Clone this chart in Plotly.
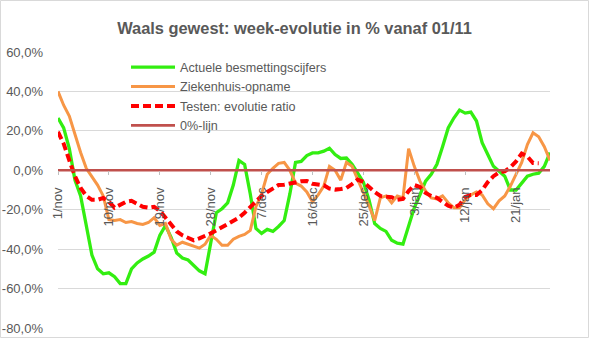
import pandas as pd
import plotly.graph_objects as go

# Daily categories 1/nov .. 27/jan (Dutch month abbreviations)
MONTHS = {11: "nov", 12: "dec", 1: "jan"}
dates = [f"{d.day}/{MONTHS[d.month]}" for d in pd.date_range("2020-11-01", "2021-01-27")]
tick_labels = ["1/nov", "10/nov", "19/nov", "28/nov", "7/dec",
               "16/dec", "25/dec", "3/jan", "12/jan", "21/jan"]
y_ticks = [-80, -60, -40, -20, 0, 20, 40, 60]
y_tick_text = ["-80,0%", "-60,0%", "-40,0%", "-20,0%", "0,0%", "20,0%", "40,0%", "60,0%"]

# Week-on-week evolution (%)
besmettingen = [
    26.5, 21.5, 11, -5, -13, -28, -43, -50, -52.5, -52,
    -54, -57.5, -57.5, -50, -47, -45, -43.5, -41.5, -33, -28,
    -34, -42, -44.5, -45.5, -48, -51, -52.5, -36, -21.5, -19.5,
    -16.5, -7.5, 5, 3, -12, -29.5, -32, -30, -31, -28.5,
    -25.5, -12, 4, 4.5, 7.5, 8.8, 8.8, 9.7, 11.2, 8,
    6, 6.2, 3, -1.5, -6, -15, -27, -29.5, -31, -35.5,
    -37, -37.5, -27.5, -19, -12.5, -5.5, -2, 3, 12, 21.5,
    26.5, 30.5, 29, 29.5, 25, 14, 8, 2, -0.5, -3,
    -10, -10, -6.5, -3, -2, -1.5, 2, 9,
]
ziekenhuis = [
    40, 33, 27.5, 18, 9, 1, -3.5, -7.5, -13, -25,
    -25.5, -25, -26.5, -26, -27, -27.5, -26.5, -24, -28, -27,
    -35, -38, -36.5, -37.5, -38.5, -39.5, -37.5, -33, -35, -38,
    -38, -35, -33.5, -32.5, -30.5, -18.5, -12, -2, 1, 3.5,
    4, 0, -6.5, -8, -11, -16, -12.5, -8, 2, 0,
    -5, 4, 2, -4.5, -11.5, -18, -25.5, -14, -13, -16.5,
    -13, -14, 11, 2, -5.5, -10.5, -14, -14.5, -13, -16.5,
    -19, -19, -15, -12.5, -11, -12.5, -17, -19.5, -15.5, -13,
    -8, -2, 4, 13, 19, 17, 12, 5,
]
testen_ratio = [
    19.5, 13.5, 5, -3, -9, -13, -15, -15, -14, -16,
    -19, -17.5, -16, -15.5, -17, -18.5, -19, -18.5, -20.5, -24,
    -28, -31, -33, -34.5, -35.5, -34.5, -33.5, -32, -30.5, -29,
    -27.5, -25.5, -24, -21.5, -18.5, -15.5, -13, -11, -9, -7.5,
    -7.3, -7, -6.2, -5.6, -5.4, -6.8, -7, -7.6, -9.3, -9.8,
    -9.5, -9, -7, -4.7, -5.9, -8.5, -11, -13, -13.2, -13.7,
    -15, -14.5, -10.5, -7.5, -8.5, -11.5, -13, -14, -16, -18,
    -19, -17.5, -13.5, -12.5, -12.5, -10, -6, -3, -1, -0.5,
    1.5, 4.5, 8.5, 7, 3.7, 3.6, None, None,
]
nul_lijn = [0] * len(dates)

GREY = "#595959"
FONT = "Liberation Sans, Arial, sans-serif"

fig = go.Figure()
fig.add_trace(go.Scatter(x=dates, y=besmettingen, name="Actuele besmettingscijfers",
                         mode="lines", line=dict(color="#33ee11", width=3.3)))
fig.add_trace(go.Scatter(x=dates, y=ziekenhuis, name="Ziekenhuis-opname",
                         mode="lines", line=dict(color="#f79646", width=3)))
fig.add_trace(go.Scatter(x=dates, y=testen_ratio, name="Testen: evolutie ratio",
                         mode="lines", line=dict(color="#ff0000", width=4, dash="8px,4px")))
fig.add_trace(go.Scatter(x=dates, y=nul_lijn, name="0%-lijn",
                         mode="lines", line=dict(color="#c0504d", width=2.6)))

L, R, T, B = 58, 39, 52, 10
W, H = 589, 338
pw, ph = W - L - R, H - T - B

def px_x(p):
    return (p - L) / pw

def px_y(p):
    return 1 - (p - T) / ph

fig.update_layout(
    width=W, height=H,
    margin=dict(l=L, r=R, t=T, b=B, autoexpand=False),
    paper_bgcolor="white", plot_bgcolor="white",
    font=dict(family=FONT, color=GREY, size=13),
    title=dict(text="<b>Waals gewest: week-evolutie in % vanaf 01/11</b>",
               x=0.5, xref="container", xanchor="center",
               y=1 - 28.5 / H, yref="container", yanchor="middle",
               font=dict(family=FONT, size=16.4, color=GREY)),
    legend=dict(x=px_x(126), y=px_y(52.5), xanchor="left", yanchor="top",
                bgcolor="rgba(0,0,0,0)", font=dict(family=FONT, size=12.6, color=GREY),
                itemwidth=44, tracegroupgap=0),
    showlegend=True,
    xaxis=dict(type="category", range=[0, len(dates) - 1], automargin=False,
               anchor="free", position=80 / 140,
               tickmode="array", tickvals=tick_labels, ticktext=tick_labels,
               tickangle=-90, ticks="outside", ticklen=4, tickcolor="#bfbfbf",
               ticklabelstandoff=7,
               showgrid=False, showline=False, zeroline=False,
               tickfont=dict(family=FONT, size=13, color=GREY)),
    yaxis=dict(range=[-80, 60], automargin=False,
               tickmode="array", tickvals=y_ticks, ticktext=y_tick_text,
               showgrid=True, gridcolor="#d9d9d9", gridwidth=1,
               zeroline=False, showline=False, ticks="", ticklabelstandoff=14,
               tickfont=dict(family=FONT, size=13, color=GREY)),
    shapes=[dict(type="rect", xref="paper", yref="paper",
                 x0=px_x(0.5), x1=px_x(W - 0.5), y0=px_y(H - 0.5), y1=px_y(0.5),
                 line=dict(color="#d9d9d9", width=1), layer="below")],
)

fig.write_html("out.html")
